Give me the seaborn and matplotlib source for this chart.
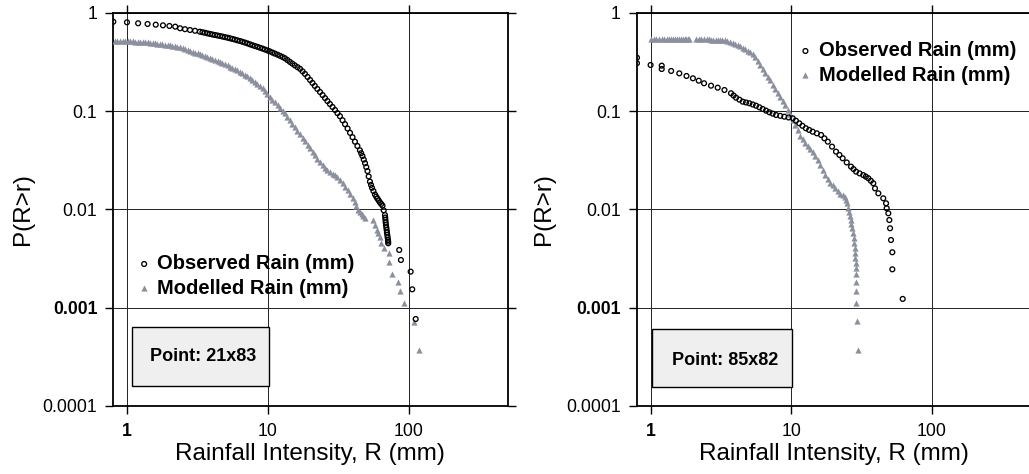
import numpy as np
import pandas as pd
import seaborn as sns
import matplotlib.pyplot as plt
from matplotlib.patches import Rectangle
from matplotlib.ticker import NullLocator

# Point 21x83 (left panel): exceedance probability P(R>r) against rainfall r (mm)
obs_r_21x83 = [0.8, 1.0, 1.2, 1.4, 1.6, 1.8, 2.0, 2.2, 2.38, 2.58,
               2.80, 3.04, 3.29, 3.43, 3.57, 3.72, 3.88, 4.04, 4.21, 4.39,
               4.57, 4.76, 4.96, 5.17, 5.38, 5.60, 5.83, 6.07, 6.33, 6.59,
               6.87, 7.16, 7.45, 7.76, 8.09, 8.43, 8.78, 9.15, 9.52, 9.92,
               10.3, 10.75, 11.2, 11.7, 12.2, 12.7, 13.2, 13.75, 14.3, 14.9,
               15.5, 16.2, 16.9, 17.6, 18.3, 19.1, 19.9, 20.7, 21.5, 22.4,
               23.4, 24.4, 25.4, 26.4, 27.5, 28.7, 29.9, 31.1, 32.4, 33.8,
               35.2, 36.7, 38.2, 39.8, 41.4, 43.1, 44.9, 45.8, 46.8, 47.8,
               48.8, 49.8, 50.8, 51.8, 52.9, 53.8, 54.7, 56.0, 57.4, 58.6,
               59.8, 61.0, 62.3, 63.6, 64.9, 66.2, 67.6, 67.9, 68.1, 68.4,
               68.7, 69.1, 69.5, 69.8, 70.2, 70.6, 71.0, 71.2, 71.3, 85.3,
               87.7, 102.8, 105.5, 111.6]
obs_p_21x83 = [0.815, 0.804, 0.786, 0.773, 0.760, 0.749, 0.738, 0.726, 0.699, 0.684,
               0.671, 0.659, 0.645, 0.637, 0.629, 0.620, 0.612, 0.604, 0.597, 0.590,
               0.583, 0.575, 0.568, 0.560, 0.553, 0.544, 0.536, 0.527, 0.519, 0.509,
               0.500, 0.490, 0.480, 0.470, 0.461, 0.452, 0.443, 0.434, 0.425, 0.416,
               0.407, 0.396, 0.386, 0.376, 0.366, 0.356, 0.346, 0.332, 0.318, 0.305,
               0.293, 0.281, 0.270, 0.2546, 0.240, 0.2234, 0.208, 0.194, 0.181, 0.1686,
               0.157, 0.1461, 0.136, 0.127, 0.1185, 0.1105, 0.1030, 0.0957, 0.0890, 0.0810,
               0.0738, 0.0667, 0.0603, 0.0544, 0.0490, 0.0443, 0.0400, 0.0374, 0.0350, 0.0322,
               0.0296, 0.0270, 0.0246, 0.0217, 0.0192, 0.0178, 0.0166, 0.0154, 0.0142, 0.0135,
               0.0129, 0.01235, 0.0118, 0.0114, 0.01096, 0.00981, 0.00879, 0.00828, 0.00781, 0.00737,
               0.00695, 0.00655, 0.00618, 0.00583, 0.00550, 0.00519, 0.00489, 0.00471, 0.00453, 0.00387,
               0.00306, 0.00233, 0.00154, 0.000768]
mod_r_21x83 = [0.82, 0.855, 0.89, 0.93, 0.97, 1.01, 1.05, 1.095, 1.14, 1.19,
               1.24, 1.29, 1.34, 1.40, 1.46, 1.52, 1.58, 1.645, 1.71, 1.78,
               1.86, 1.94, 2.02, 2.10, 2.19, 2.28, 2.38, 2.48, 2.58, 2.69,
               2.80, 2.92, 3.04, 3.17, 3.29, 3.43, 3.57, 3.72, 3.88, 4.04,
               4.21, 4.39, 4.57, 4.76, 4.96, 5.17, 5.38, 5.60, 5.83, 6.07,
               6.33, 6.59, 6.87, 7.16, 7.45, 7.76, 8.09, 8.43, 8.78, 9.15,
               9.52, 9.92, 10.3, 10.75, 11.2, 11.7, 12.2, 12.7, 13.2, 13.75,
               14.3, 14.9, 15.5, 16.2, 16.9, 17.6, 18.3, 19.1, 19.9, 20.7,
               21.5, 22.4, 23.4, 24.4, 25.4, 26.4, 27.5, 28.7, 29.9, 31.1,
               32.4, 33.8, 35.2, 36.7, 38.2, 39.8, 41.4, 42.4, 43.5, 44.9,
               46.4, 47.6, 48.8, 55.8, 57.4, 59.0, 60.3, 62.3, 63.3, 66.8,
               72.5, 72.5, 75.4, 84.0, 86.4, 92.6, 108.5, 118.3]
mod_p_21x83 = [0.519, 0.5185, 0.518, 0.517, 0.516, 0.515, 0.514, 0.513, 0.512, 0.5105,
               0.509, 0.5065, 0.504, 0.501, 0.498, 0.4945, 0.491, 0.4875, 0.484, 0.480,
               0.476, 0.4715, 0.467, 0.462, 0.457, 0.4525, 0.448, 0.4385, 0.429, 0.4195,
               0.410, 0.4025, 0.395, 0.3875, 0.380, 0.3725, 0.365, 0.358, 0.351, 0.343,
               0.335, 0.327, 0.319, 0.310, 0.301, 0.2925, 0.284, 0.276, 0.268, 0.2605,
               0.253, 0.244, 0.235, 0.227, 0.2195, 0.2095, 0.200, 0.1908, 0.182, 0.1704,
               0.1596, 0.1495, 0.140, 0.1312, 0.123, 0.1153, 0.1081, 0.1015, 0.0953, 0.0877,
               0.0807, 0.0743, 0.0685, 0.0631, 0.0582, 0.0536, 0.0494, 0.0455, 0.0420, 0.0386,
               0.0355, 0.0328, 0.0304, 0.0284, 0.0265, 0.0253, 0.0241, 0.0232, 0.0224, 0.0212,
               0.0200, 0.0185, 0.0171, 0.0157, 0.0145, 0.0131, 0.0119, 0.0108, 0.00988, 0.00943,
               0.00900, 0.00856, 0.00814, 0.00781, 0.00695, 0.00618, 0.00576, 0.00529, 0.00459, 0.00403,
               0.00363, 0.00294, 0.00221, 0.00184, 0.00149, 0.00111, 0.000721, 0.000372]

# Point 85x82 (right panel)
obs_r_85x82 = [0.8, 0.8, 1.0, 1.2, 1.2, 1.4, 1.6, 1.8, 2.0, 2.2,
               2.4, 2.69, 3.0, 3.35, 3.73, 3.89, 4.05, 4.28, 4.52, 4.77,
               5.04, 5.32, 5.62, 5.94, 6.27, 6.62, 6.99, 7.38, 7.80, 8.35,
               8.93, 9.57, 10.25, 10.8, 11.4, 12.0, 12.7, 13.4, 14.2, 15.2,
               16.3, 17.2, 18.2, 19.5, 20.8, 22.0, 23.2, 24.8, 26.6, 27.7,
               28.9, 30.6, 32.5, 33.9, 35.3, 36.8, 38.3, 39.4, 41.6, 45.1,
               47.2, 47.7, 49.0, 49.8, 50.4, 51.2, 52.3, 52.3, 62.0]
obs_p_85x82 = [0.351, 0.308, 0.2955, 0.291, 0.269, 0.257, 0.243, 0.2285, 0.2164, 0.2046,
               0.1926, 0.182, 0.1737, 0.1645, 0.1523, 0.1446, 0.1373, 0.1311, 0.1251, 0.1228,
               0.1205, 0.1172, 0.1139, 0.1096, 0.1054, 0.1014, 0.0976, 0.0946, 0.0916, 0.0898,
               0.0880, 0.0864, 0.0848, 0.0800, 0.0754, 0.0711, 0.0671, 0.0645, 0.0619, 0.0596,
               0.0573, 0.0530, 0.0490, 0.0436, 0.0388, 0.0359, 0.0332, 0.0301, 0.0273, 0.0258,
               0.0243, 0.0233, 0.0224, 0.0216, 0.0208, 0.0196, 0.0185, 0.0164, 0.0146, 0.0130,
               0.01156, 0.01028, 0.00915, 0.00781, 0.00644, 0.00489, 0.00367, 0.00246, 0.00123]
mod_r_85x82 = [1.0, 1.05, 1.1, 1.15, 1.2, 1.25, 1.3, 1.35, 1.4, 1.45,
               1.5, 1.55, 1.6, 1.65, 1.7, 1.75, 1.8, 1.84, 1.88, 2.1,
               2.2, 2.3, 2.4, 2.5, 2.6, 2.7, 2.8, 2.9, 3.0, 3.1,
               3.2, 3.38, 3.52, 3.67, 3.83, 3.99, 4.16, 4.33, 4.51, 4.70,
               4.90, 5.10, 5.31, 5.53, 5.76, 6.00, 6.25, 6.51, 6.78, 7.07,
               7.37, 7.67, 7.99, 8.33, 8.68, 9.04, 9.42, 9.81, 10.22, 10.64,
               11.08, 11.55, 12.03, 12.53, 13.05, 13.60, 14.17, 14.77, 15.38, 16.02,
               16.69, 17.39, 18.12, 18.87, 19.66, 20.48, 21.34, 22.23, 23.16, 24.12,
               24.6, 25.1, 25.5, 25.8, 26.1, 26.4, 26.7, 27.0, 27.6, 27.9,
               28.1, 28.3, 28.4, 28.6, 28.7, 28.7, 28.7, 28.7, 28.7, 29.0,
               29.5, 29.8]
mod_p_85x82 = [0.544, 0.544, 0.544, 0.544, 0.544, 0.544, 0.544, 0.544, 0.544, 0.544,
               0.544, 0.544, 0.544, 0.544, 0.544, 0.544, 0.544, 0.544, 0.544, 0.540,
               0.540, 0.540, 0.539, 0.539, 0.538, 0.537, 0.536, 0.535, 0.533, 0.531,
               0.529, 0.527, 0.5175, 0.508, 0.498, 0.488, 0.4735, 0.459, 0.445, 0.431,
               0.415, 0.399, 0.378, 0.357, 0.327, 0.299, 0.272, 0.247, 0.2253, 0.2056,
               0.1861, 0.1684, 0.1533, 0.1396, 0.1271, 0.1158, 0.1036, 0.0927, 0.0815, 0.0716,
               0.0637, 0.0566, 0.0516, 0.0470, 0.0441, 0.0413, 0.0382, 0.0354, 0.0317, 0.0284,
               0.0251, 0.0222, 0.0204, 0.0188, 0.0177, 0.0167, 0.0156, 0.0145, 0.0139, 0.01325,
               0.0124, 0.01165, 0.01036, 0.00943, 0.00859, 0.00781, 0.00712, 0.00648, 0.00573, 0.00513,
               0.00453, 0.00406, 0.00358, 0.00321, 0.00283, 0.00254, 0.00221, 0.00184, 0.00149, 0.00111,
               0.000738, 0.000372]

series_names = ['Observed Rain (mm)', 'Modelled Rain (mm)']
point_names = ['Point: 21x83', 'Point: 85x82']
x_ticks = [1, 10, 100]
x_tick_labels = ['1', '10', '100']
y_ticks = [1, 0.1, 0.01, 0.001, 0.0001]
y_tick_labels = ['1', '0.1', '0.01', '0.001', '0.0001']

obs_color = 'black'
mod_color = '#8b909e'

sns.set_style('ticks')
plt.rcParams['font.family'] = ['Liberation Sans', 'DejaVu Sans']
plt.rcParams['text.color'] = 'black'
plt.rcParams['axes.labelcolor'] = 'black'
plt.rcParams['xtick.color'] = 'black'
plt.rcParams['ytick.color'] = 'black'

fig = plt.figure(figsize=(10.29, 4.74), dpi=100)
ax1 = fig.add_axes([0.1101, 0.1435, 0.3831, 0.8291])
ax2 = fig.add_axes([0.6190, 0.1435, 0.3822, 0.8291])


def draw_panel(ax, obs_r, obs_p, mod_r, mod_p, point_name, leg_anchor, box, text_xy, ylab_x):
    df_obs = pd.DataFrame({'R': obs_r, 'P': obs_p})
    df_mod = pd.DataFrame({'R': mod_r, 'P': mod_p})

    sns.scatterplot(data=df_mod, x='R', y='P', marker='^', color=mod_color, s=20,
                    linewidth=0, ax=ax, zorder=3)
    sns.scatterplot(data=df_obs, x='R', y='P', marker='o', facecolor='none',
                    edgecolor=obs_color, s=12, linewidth=0.95, ax=ax, zorder=4)

    ax.set_xscale('log')
    ax.set_yscale('log')
    ax.set_xlim(0.8, 500)
    ax.set_ylim(0.0001, 1)
    ax.set_xticks(x_ticks, x_tick_labels)
    ax.set_yticks(y_ticks, y_tick_labels)
    ax.xaxis.set_minor_locator(NullLocator())
    ax.yaxis.set_minor_locator(NullLocator())
    ax.grid(True, which='major', color='#222222', linewidth=0.7)
    ax.set_axisbelow(True)
    ax.tick_params(which='major', direction='out', length=5.5, width=1, top=True, right=True,
                   labelsize=12.7, colors='black')
    ax.tick_params(axis='y', pad=6)
    ax.tick_params(axis='x', pad=6.5)
    for lbl in ax.get_yticklabels():
        if lbl.get_text() == '0.001':
            lbl.set_fontweight('bold')
    for lbl in ax.get_xticklabels():
        if lbl.get_text() == '1':
            lbl.set_fontweight('bold')
    for sp in ax.spines.values():
        sp.set_linewidth(1.3)
        sp.set_color('black')

    ax.set_xlabel('Rainfall Intensity, R (mm)', fontsize=17.5)
    ax.set_ylabel('P(R>r)', fontsize=17.5)
    ax.xaxis.set_label_coords(0.5, -0.095)
    ax.yaxis.set_label_coords(ylab_x, 0.5)

    h_mod, h_obs = ax.collections[0], ax.collections[1]
    ax.legend(handles=[h_obs, h_mod], labels=series_names, loc='upper left',
              bbox_to_anchor=leg_anchor, frameon=False,
              prop={'weight': 'bold', 'size': 14.5}, handlelength=0.6, handletextpad=0.35,
              borderpad=0, borderaxespad=0, labelspacing=0.27, scatterpoints=1)

    x0, y0, x1, y1 = box
    ax.add_patch(Rectangle((x0, y0), x1 - x0, y1 - y0, transform=ax.transAxes,
                           facecolor='#efefef', edgecolor='black', linewidth=1, zorder=5))
    ax.text(text_xy[0], text_xy[1], point_name, transform=ax.transAxes, ha='center',
            va='center', fontsize=13, fontweight='bold', zorder=6)


draw_panel(ax1, obs_r_21x83, obs_p_21x83, mod_r_21x83, mod_p_21x83, point_names[0],
           (0.063, 0.386), (0.048, 0.051, 0.396, 0.201), (0.228, 0.125), -0.2)
draw_panel(ax2, obs_r_85x82, obs_p_85x82, mod_r_85x82, mod_p_85x82, point_names[1],
           (0.413, 0.928), (0.038, 0.048, 0.395, 0.196), (0.223, 0.117), -0.208)

fig.savefig('out.png', dpi=100)
